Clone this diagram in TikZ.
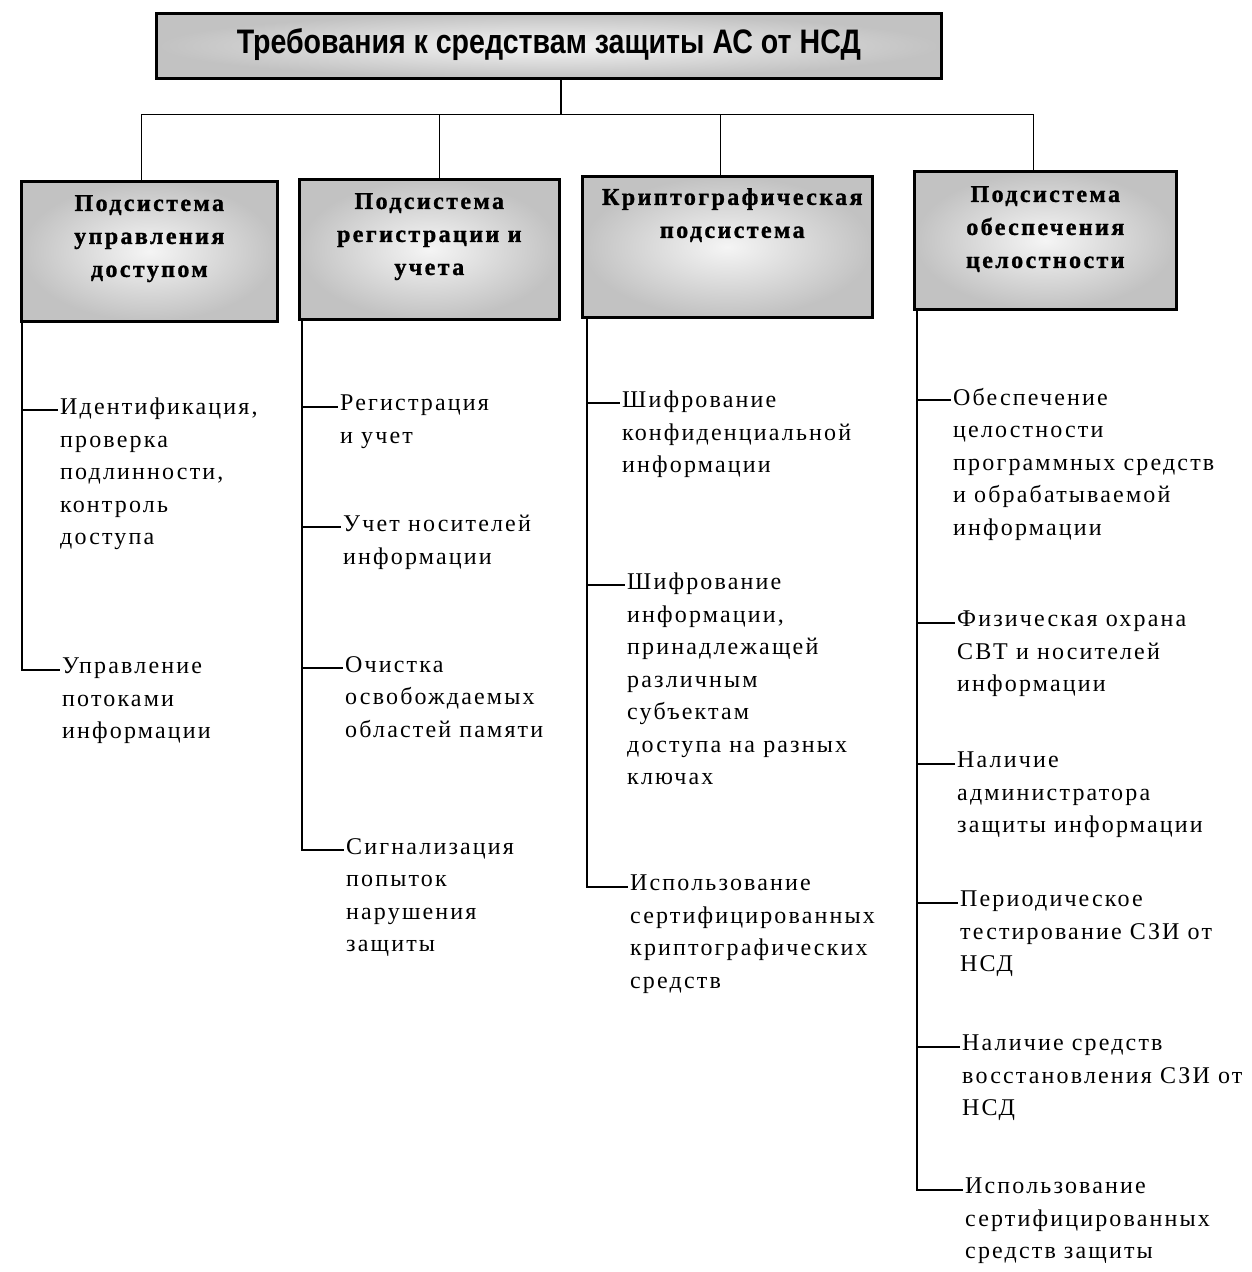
\documentclass[tikz,border=0pt]{standalone}
\usepackage{fontspec}
\setmainfont{Liberation Serif}
\newfontfamily\titlefont{Liberation Sans}
\newfontfamily\itemfont[LetterSpace=9]{Liberation Serif}
\newfontfamily\headfont[LetterSpace=10,FakeBold=1.2]{Liberation Serif}
\begin{document}
\begin{tikzpicture}[x=1pt,y=1pt,
  boxbase/.style={draw, line width=2.6pt, anchor=north west, inner sep=0pt, shade, shading=radial, inner color=gray!8, outer color=gray!48},
  conn/.style={line width=1.6pt},
  item/.style={anchor=north west, align=left, inner sep=0pt, font=\itemfont\fontsize{24}{32.5}\selectfont, execute at begin node={\rule{0pt}{20pt}}},
  head/.style={anchor=north, align=center, inner sep=0pt, font=\headfont\bfseries\fontsize{24}{33}\selectfont, execute at begin node={\rule{0pt}{20pt}}}]
\useasboundingbox (0,0) rectangle (1252,-1272);
% top box
\node[boxbase, minimum width=785pt, minimum height=65pt] (top) at (155,-12) {};
\node[inner sep=0pt, font=\titlefont\bfseries\fontsize{34}{38}\selectfont] (title) at ([xshift=0pt,yshift=1pt]top.center) {\scalebox{0.84}[1]{Требования к средствам защиты АС от НСД}};
% sub boxes
\node[boxbase, minimum width=256pt, minimum height=140pt] (b1) at (20,-180) {};
\node[boxbase, minimum width=260pt, minimum height=140pt] (b2) at (298,-178) {};
\node[boxbase, minimum width=290pt, minimum height=141pt] (b3) at (581,-175) {};
\node[boxbase, minimum width=262pt, minimum height=138pt] (b4) at (913,-170) {};
\node[head] (h1) at ([yshift=-15pt]b1.north) {Подсистема\\управления\\доступом};
\node[head] (h2) at ([yshift=-15pt]b2.north) {Подсистема\\регистрации и\\учета};
\node[head] (h3) at ([yshift=-13pt,xshift=5pt]b3.north) {Криптографическая\\подсистема};
\node[head] (h4) at ([yshift=-16pt]b4.north) {Подсистема\\обеспечения\\целостности};
% tree
\draw[conn] ([xshift=12pt]top.south) -- ++(0,-35) coordinate (bus);
\draw[conn] (bus) -| ([xshift=-8pt]b1.north);
\draw[conn] (bus) -| ([xshift=10pt]b2.north);
\draw[conn] (bus) -| ([xshift=-7pt]b3.north);
\draw[conn] (bus) -| ([xshift=-12pt]b4.north);
% items box 1
\node[item] (i11) at (60,-398) {Идентификация,\\проверка\\подлинности,\\контроль\\доступа};
\node[item] (i12) at (62,-658) {Управление\\потоками\\информации};
% items box 2
\node[item] (i21) at (340,-395) {Регистрация\\и учет};
\node[item] (i22) at (343,-515) {Учет носителей\\информации};
\node[item] (i23) at (345,-656) {Очистка\\освобождаемых\\областей памяти};
\node[item] (i24) at (346,-838) {Сигнализация\\попыток\\нарушения\\защиты};
% items box 3
\node[item] (i31) at (622,-391) {Шифрование\\конфиденциальной\\информации};
\node[item] (i32) at (627,-573) {Шифрование\\информации,\\принадлежащей\\различным\\субъектам\\доступа на разных\\ключах};
\node[item] (i33) at (630,-875) {Использование\\сертифицированных\\криптографических\\средств};
% items box 4
\node[item] (i41) at (953,-388) {Обеспечение\\целостности\\программных средств\\и обрабатываемой\\информации};
\node[item] (i42) at (957,-611) {Физическая охрана\\СВТ и носителей\\информации};
\node[item] (i43) at (957,-752) {Наличие\\администратора\\защиты информации};
\node[item] (i44) at (960,-891) {Периодическое\\тестирование СЗИ от\\НСД};
\node[item] (i45) at (962,-1035) {Наличие средств\\восстановления СЗИ от\\НСД};
\node[item] (i46) at (965,-1178) {Использование\\сертифицированных\\средств защиты};
% spines
\foreach \i in {i11,i12}
  \draw[conn] ([xshift=2pt]b1.south west) |- ([shift={(-2pt,-12pt)}]\i.north west);
\foreach \i in {i21,i22,i23,i24}
  \draw[conn] ([xshift=4pt]b2.south west) |- ([shift={(-2pt,-12pt)}]\i.north west);
\foreach \i in {i31,i32,i33}
  \draw[conn] ([xshift=6pt]b3.south west) |- ([shift={(-2pt,-12pt)}]\i.north west);
\foreach \i in {i41,i42,i43,i44,i45,i46}
  \draw[conn] ([xshift=4pt]b4.south west) |- ([shift={(-2pt,-12pt)}]\i.north west);
\end{tikzpicture}
\end{document}
